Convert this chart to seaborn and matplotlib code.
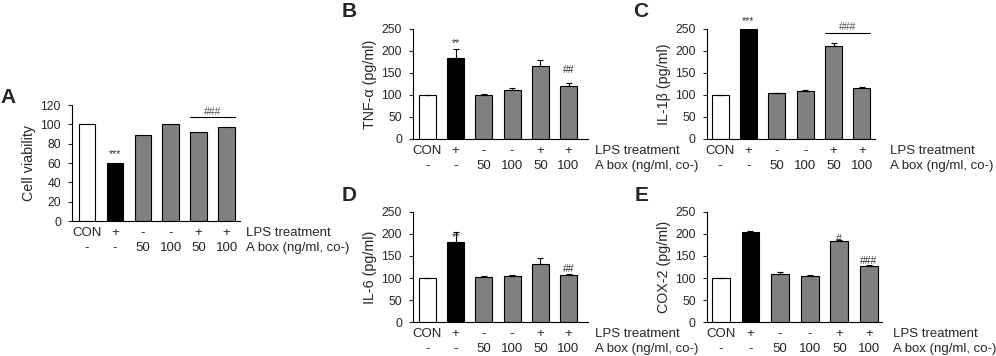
import numpy as np
import pandas as pd
import matplotlib
matplotlib.use('Agg')
import matplotlib.pyplot as plt
import seaborn as sns

sns.set_style('white')
plt.rcParams['font.family'] = ['Liberation Sans', 'DejaVu Sans']
plt.rcParams['font.size'] = 9.5

groups = ['CON', 'LPS', 'A50', 'A100', 'LPS+A50', 'LPS+A100']
lps_row = ['CON', '+', '-', '-', '+', '+']
abox_row = ['-', '-', '50', '100', '50', '100']
bar_colors = ['white', 'black', '#808080', '#808080', '#808080', '#808080']

viability = [100, 60, 89, 100, 92, 97]
tnf = [100, 185, 100, 111, 165, 120]
tnf_err = [0, 19, 3, 4, 14, 7]
il1b = [100, 250, 104, 108, 212, 116]
il1b_err = [0, 0, 1, 3, 7, 3]
il6 = [100, 182, 103, 104, 132, 106]
il6_err = [0, 23, 2, 2, 14, 3]
cox2 = [100, 204, 108, 104, 184, 127]
cox2_err = [0, 3, 5, 2, 2, 2]

fig = plt.figure(figsize=(9.96, 3.56), dpi=100)


def panel(rect, vals, err, ylabel, ymax, ystep, xlim, label_x, marks, bracket=None):
    ax = fig.add_axes(rect)
    df = pd.DataFrame({'group': groups, 'value': vals})
    sns.barplot(data=df, x='group', y='value', hue='group', palette=bar_colors,
                legend=False, width=0.6, edgecolor='black', linewidth=0.8,
                errorbar=None, ax=ax)
    if err is not None:
        ax.errorbar(range(6), vals, yerr=[np.zeros(6), err], fmt='none',
                    ecolor='black', elinewidth=0.8, capsize=2.5, capthick=0.8)
    ax.set_xlim(*xlim)
    ax.set_ylim(0, ymax)
    ax.set_yticks(np.arange(0, ymax + 1, ystep))
    ax.set_xticks([])
    ax.set_xlabel('')
    ax.set_ylabel(ylabel, labelpad=3, fontsize=10.3)
    ax.tick_params(axis='y', direction='out', length=3, width=0.8, pad=5, left=True,
                   labelsize=8.7)
    for s in ['top', 'right']:
        ax.spines[s].set_visible(False)
    for s in ['left', 'bottom']:
        ax.spines[s].set_linewidth(0.8)
        ax.spines[s].set_color('black')
    for i in range(6):
        ax.annotate(lps_row[i], xy=(i, 0), xycoords=('data', 'axes fraction'),
                    xytext=(0, -8.5), textcoords='offset points', ha='center', va='center')
        ax.annotate(abox_row[i], xy=(i, 0), xycoords=('data', 'axes fraction'),
                    xytext=(0, -19.5), textcoords='offset points', ha='center', va='center')
    ax.annotate('LPS treatment', xy=(label_x, 0), xycoords=('data', 'axes fraction'),
                xytext=(0, -8.5), textcoords='offset points', ha='left', va='center',
                annotation_clip=False)
    ax.annotate('A box (ng/ml, co-)', xy=(label_x, 0), xycoords=('data', 'axes fraction'),
                xytext=(0, -19.5), textcoords='offset points', ha='left', va='center',
                annotation_clip=False)
    for xi, yi, txt in marks:
        ax.text(xi, yi, txt, ha='center', va='center', fontsize=7.5, color='#333333')
    if bracket is not None:
        y_line, y_txt = bracket
        ax.plot([3.7, 5.3], [y_line, y_line], color='black', lw=0.8, clip_on=False)
        ax.text(4.5, y_txt, '###', ha='center', va='center', fontsize=7.5, color='#555555')
    return ax


panel([0.0723, 0.379, 0.1687, 0.326], viability, None, 'Cell viability', 120, 20,
      (-0.54, 5.48), 5.68, [(1, 69, '***')], bracket=(107.5, 113))
panel([0.4147, 0.6096, 0.1757, 0.309], tnf, tnf_err, 'TNF-α (pg/ml)', 250, 50,
      (-0.51, 5.69), 5.95, [(1, 218, '**'), (5, 157, '##')])
panel([0.7098, 0.6096, 0.1687, 0.309], il1b, il1b_err, 'IL-1β (pg/ml)', 250, 50,
      (-0.46, 5.46), 6.0, [(1, 269, '***')], bracket=(240, 255))
panel([0.4147, 0.0955, 0.1757, 0.309], il6, il6_err, 'IL-6 (pg/ml)', 250, 50,
      (-0.51, 5.69), 5.95, [(1, 192, '**'), (5, 120, '##')])
panel([0.7098, 0.0955, 0.1757, 0.309], cox2, cox2_err, 'COX-2 (pg/ml)', 250, 50,
      (-0.47, 5.44), 5.8, [(4, 189, '#'), (5, 139, '###')])

for x, y, t in [(0.0, 0.712, 'A'), (0.343, 0.952, 'B'), (0.636, 0.952, 'C'),
                (0.343, 0.436, 'D'), (0.637, 0.436, 'E')]:
    fig.text(x, y, t, fontsize=15, fontweight='bold', ha='left', va='baseline')

fig.savefig('out.png', dpi=100)
